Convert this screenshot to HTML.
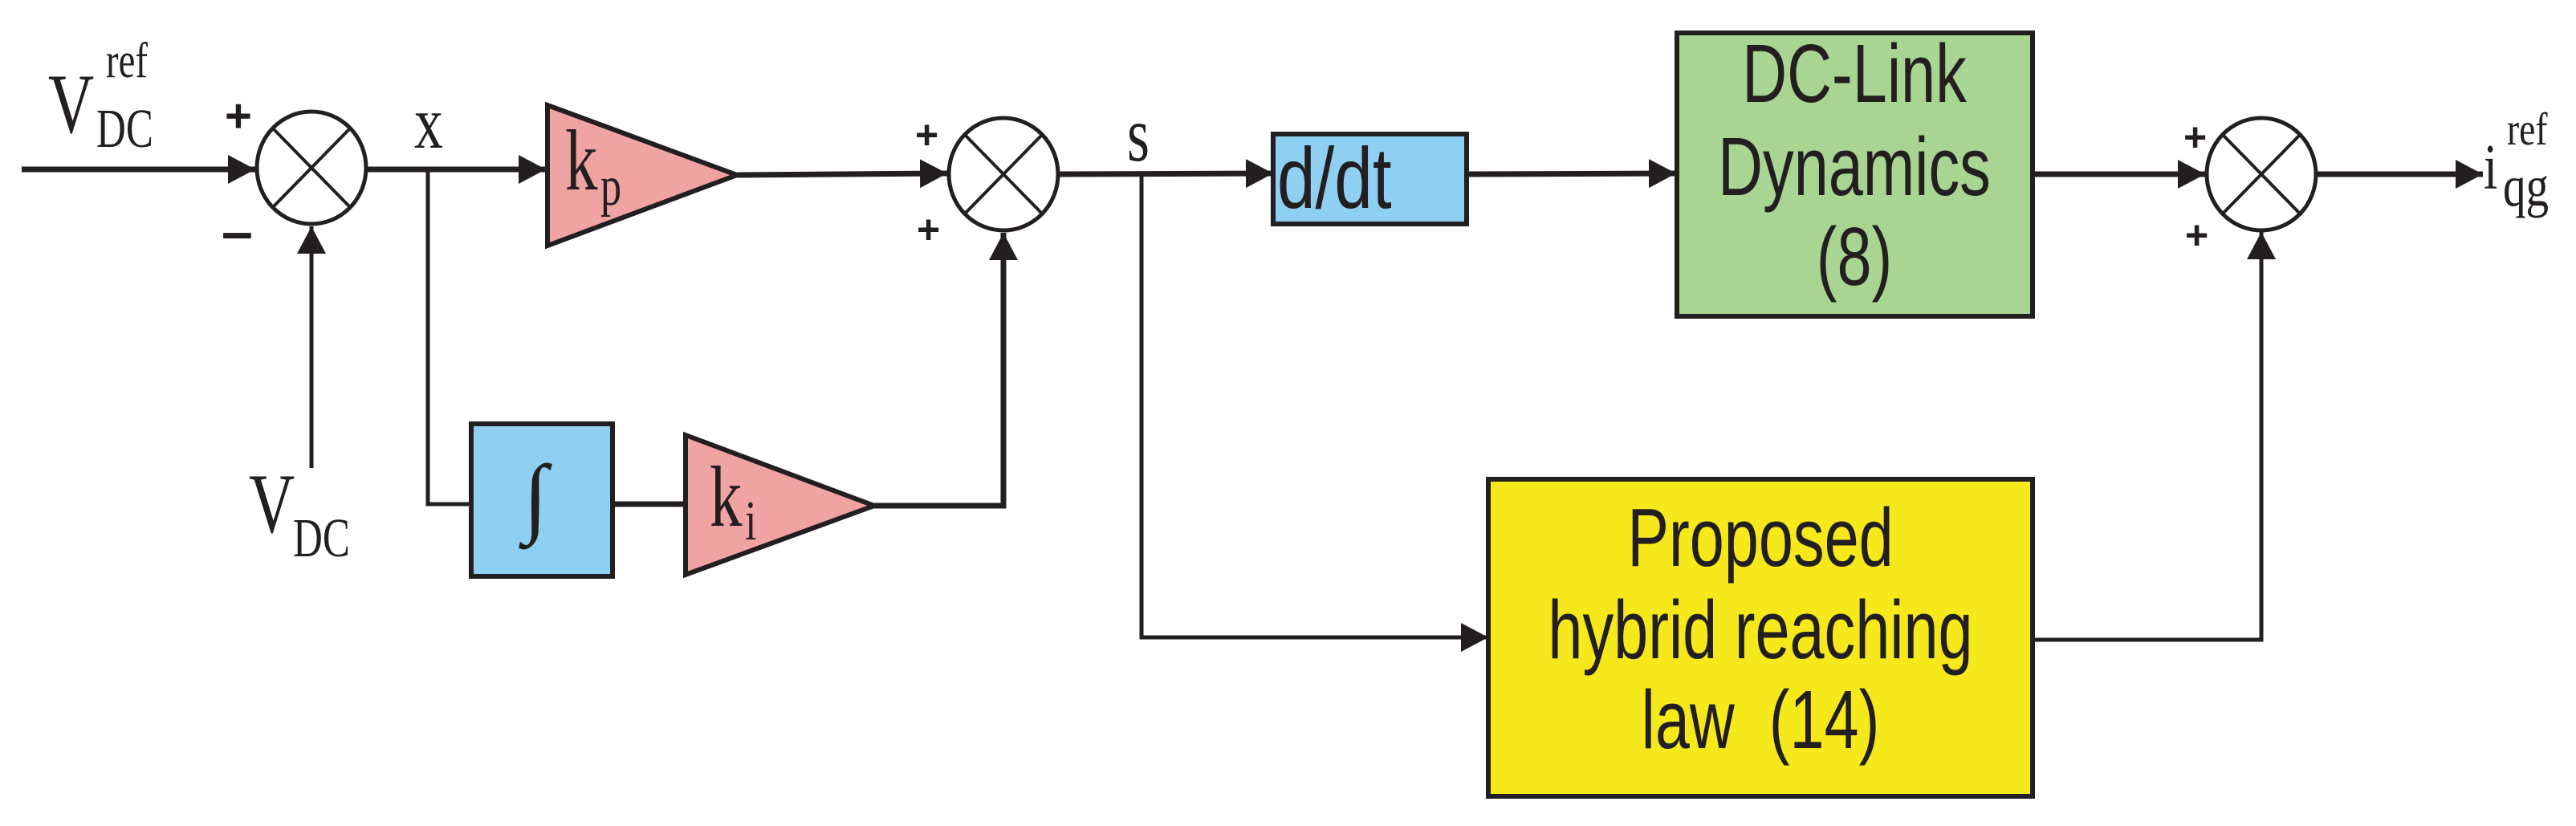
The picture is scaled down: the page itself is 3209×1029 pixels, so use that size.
<!DOCTYPE html>
<html><head><meta charset="utf-8"><style>
html,body{margin:0;padding:0;background:#fff;}
svg{display:block;}
.s{font-family:"Liberation Serif",serif;fill:#231f20;}
.a{font-family:"Liberation Sans Narrow","Liberation Sans",sans-serif;fill:#231f20;}
.p{font-family:"Liberation Sans",sans-serif;font-weight:bold;fill:#231f20;}
</style></head><body>
<svg width="3209" height="1029" viewBox="0 0 3209 1029" xmlns="http://www.w3.org/2000/svg">
<defs>
<marker id="ar" markerWidth="34" markerHeight="36" refX="34" refY="18" orient="auto" markerUnits="userSpaceOnUse">
<path d="M0,0 L34,18 L0,36 Z" fill="#231f20"/></marker>
</defs>
<g stroke="#231f20" stroke-width="7" fill="none">
<line x1="27" y1="211" x2="318" y2="211" marker-end="url(#ar)"/>
<line x1="388" y1="583" x2="388" y2="282" stroke-width="5" marker-end="url(#ar)"/>
<line x1="456" y1="211" x2="680" y2="211" marker-end="url(#ar)"/>
<polyline points="533,211 533,628 587,628" stroke-width="5"/>
<line x1="763" y1="628" x2="854" y2="628"/>
<line x1="918" y1="218" x2="1180" y2="216" marker-end="url(#ar)"/>
<polyline points="1089,630 1250,630 1250,290" marker-end="url(#ar)"/>
<line x1="1318" y1="217" x2="1586" y2="216" marker-end="url(#ar)"/>
<polyline points="1422,217 1422,794 1854,794" stroke-width="5" marker-end="url(#ar)"/>
<line x1="1828" y1="217" x2="2088" y2="216" marker-end="url(#ar)"/>
<line x1="2532" y1="217" x2="2747" y2="217" marker-end="url(#ar)"/>
<polyline points="2532,797 2817,797 2817,289" stroke-width="5" marker-end="url(#ar)"/>
<line x1="2887" y1="217" x2="3093" y2="217" marker-end="url(#ar)"/>
</g>
<g stroke="#231f20" stroke-width="5" fill="#fff">
<ellipse cx="388" cy="209" rx="68" ry="70"/>
<ellipse cx="1250" cy="217" rx="68" ry="70"/>
<ellipse cx="2817" cy="217" rx="68" ry="70"/>
</g>
<g stroke="#231f20" stroke-width="4">
<line x1="341" y1="161" x2="435" y2="257"/><line x1="435" y1="161" x2="341" y2="257"/>
<line x1="1203" y1="169" x2="1297" y2="265"/><line x1="1297" y1="169" x2="1203" y2="265"/>
<line x1="2770" y1="169" x2="2864" y2="265"/><line x1="2864" y1="169" x2="2770" y2="265"/>
</g>
<polygon points="682,131 918,218 682,306" fill="#f0a3a3" stroke="#231f20" stroke-width="6"/>
<polygon points="854,542 1089,630 854,716" fill="#f0a3a3" stroke="#231f20" stroke-width="6"/>
<rect x="587" y="528" width="176" height="190" fill="#8ecff2" stroke="#231f20" stroke-width="6"/>
<rect x="1586" y="167" width="241" height="112" fill="#8ecff2" stroke="#231f20" stroke-width="6"/>
<rect x="2089" y="41" width="443" height="353" fill="#a8d592" stroke="#231f20" stroke-width="6"/>
<rect x="1854" y="597" width="678" height="395" fill="#f5e91c" stroke="#231f20" stroke-width="6"/>
<text class="s" transform="translate(60,165) scale(0.9,1.2)" font-size="88">V</text>
<text class="s" transform="translate(120,183) scale(0.85,1.15)" font-size="60">DC</text>
<text class="s" transform="translate(132,96) scale(0.9,1.2)" font-size="52">ref</text>
<text class="p" x="280" y="164" font-size="58">+</text>
<text class="p" x="276" y="312" font-size="70">–</text>
<text class="s" transform="translate(310,663) scale(0.9,1.2)" font-size="88">V</text>
<text class="s" transform="translate(365,693) scale(0.85,1.15)" font-size="60">DC</text>
<text class="s" transform="translate(516,184) scale(1,1.3)" font-size="72">x</text>
<text class="s" transform="translate(704,236) scale(0.9,1.2)" font-size="90">k</text>
<text class="s" transform="translate(748,255) scale(0.9,1.2)" font-size="58">p</text>
<text class="s" transform="translate(884,655) scale(0.9,1.2)" font-size="90">k</text>
<text class="s" transform="translate(928,672) scale(0.9,1.2)" font-size="58">i</text>
<text class="s" x="652" y="655" font-size="110" font-style="italic">∫</text>
<text class="p" x="1140" y="185" font-size="50">+</text>
<text class="p" x="1142" y="303" font-size="50">+</text>
<text class="s" transform="translate(1404,200) scale(1,1.35)" font-size="72">s</text>
<text class="a" transform="translate(1591,259) scale(0.95,1.2)" font-size="90">d/dt</text>
<text class="a" transform="translate(2310,127) scale(0.9,1.2)" font-size="86" text-anchor="middle">DC-Link</text>
<text class="a" transform="translate(2310,243) scale(0.9,1.2)" font-size="86" text-anchor="middle">Dynamics</text>
<text class="a" transform="translate(2310,355) scale(0.9,1.2)" font-size="86" text-anchor="middle">(8)</text>
<text class="a" transform="translate(2193,705) scale(0.9,1.2)" font-size="86" text-anchor="middle">Proposed</text>
<text class="a" transform="translate(2193,820) scale(0.9,1.2)" font-size="86" text-anchor="middle">hybrid reaching</text>
<text class="a" transform="translate(2193,932) scale(0.9,1.2)" font-size="86" text-anchor="middle" xml:space="preserve">law  (14)</text>
<text class="p" x="2720" y="188" font-size="50">+</text>
<text class="p" x="2722" y="310" font-size="50">+</text>
<text class="s" transform="translate(3094,235) scale(1,1.3)" font-size="62">i</text>
<text class="s" transform="translate(3118,256) scale(0.95,1.2)" font-size="60">qg</text>
<text class="s" transform="translate(3123,180) scale(0.95,1.2)" font-size="48">ref</text>
</svg>
</body></html>
